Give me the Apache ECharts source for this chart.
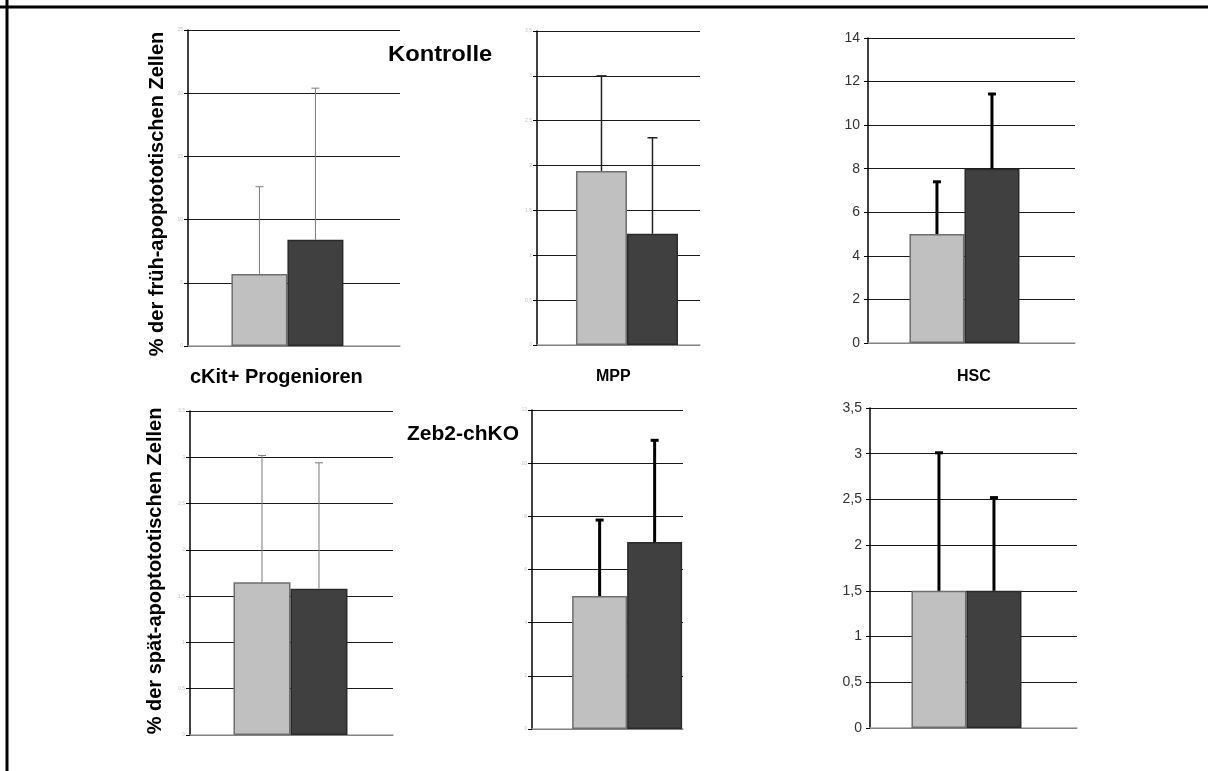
<!DOCTYPE html>
<html>
<head>
<meta charset="utf-8">
<script src="https://cdn.jsdelivr.net/npm/echarts@6/dist/echarts.min.js"></script>
<style>
html, body { margin: 0; padding: 0; background: #fff; }
#chart { width: 1208px; height: 771px; }
</style>
</head>
<body>
<div id="chart"></div>
<script>
// Groups compared in every panel (light bar, dark bar)
const groupNames = ['Kontrolle', 'Zeb2-chKO'];
const panelTitles = ['cKit+ Progenioren', 'MPP', 'HSC'];
const rowTitles = ['% der früh-apoptototischen Zellen', '% der spät-apoptototischen Zellen'];

// Early apoptotic cells: mean and SD, [Kontrolle, Zeb2-chKO]
const earlyCkit = [5.7, 8.4];
const earlyCkitSd = [6.9, 12.0];
const earlyMpp = [1.94, 1.24];
const earlyMppSd = [1.06, 1.07];
const earlyHsc = [5.0, 8.0];
const earlyHscSd = [2.4, 3.43];

// Late apoptotic cells: mean and SD, [Kontrolle, Zeb2-chKO]
const lateCkit = [1.65, 1.58];
const lateCkitSd = [1.37, 1.36];
const lateMpp = [5.0, 7.03];
const lateMppSd = [2.86, 3.83];
const lateHsc = [1.5, 1.5];
const lateHscSd = [1.51, 1.02];

// Y axis ranges per panel
const yMax = [25, 3.5, 14, 3.5, 12, 3.5];
const yStep = [5, 0.5, 2, 0.5, 2, 0.5];

const panelMeans = [earlyCkit, earlyMpp, earlyHsc, lateCkit, lateMpp, lateHsc];
const panelSds = [earlyCkitSd, earlyMppSd, earlyHscSd, lateCkitSd, lateMppSd, lateHscSd];

// Plot boxes (px) and bar placement inside each box
const layout = [
  { left: 188, top: 30,  width: 212, height: 316, center: 0.469, barW: 56, bigTicks: false, err: 'thin' },
  { left: 537, top: 31,  width: 163, height: 314, center: 0.552, barW: 51, bigTicks: false, err: 'mid' },
  { left: 868, top: 38,  width: 207, height: 305, center: 0.466, barW: 55, bigTicks: true,  err: 'bold' },
  { left: 190, top: 411, width: 203, height: 324, center: 0.495, barW: 57, bigTicks: false, err: 'thin' },
  { left: 532, top: 410, width: 151, height: 319, center: 0.63,  barW: 55, bigTicks: false, err: 'bold' },
  { left: 870, top: 408, width: 207, height: 320, center: 0.466, barW: 55, bigTicks: true,  err: 'bold' }
];

const errStyles = {
  thin: { stroke: '#7a7a7a', lineWidth: 1, cap: 4 },
  mid:  { stroke: '#222',    lineWidth: 1.5, cap: 5 },
  bold: { stroke: '#000',    lineWidth: 3, cap: 4 }
};

const fillColors = ['#c0c0c0', '#404040'];
const borderColors = ['#6e6e6e', '#2a2a2a'];

const fmt = v => String(v).replace('.', ',');

const grids = [], xAxes = [], yAxes = [], series = [];

layout.forEach((p, i) => {
  grids.push({ left: p.left, top: p.top, width: p.width, height: p.height, containLabel: false });
  xAxes.push({
    type: 'value', gridIndex: i, min: 0, max: 1,
    axisLine: { show: true, onZero: false, lineStyle: { color: '#a8a8a8', width: 1.5 } },
    axisTick: { show: false }, axisLabel: { show: false }, splitLine: { show: false }
  });
  yAxes.push({
    type: 'value', gridIndex: i, min: 0, max: yMax[i], interval: yStep[i],
    axisLine: { show: true, lineStyle: { color: '#000', width: 1.5 } },
    axisTick: { show: true, length: 4, lineStyle: { color: '#000', width: 1 } },
    axisLabel: p.bigTicks
      ? { show: true, formatter: fmt, color: '#333', fontSize: 14, margin: 8, fontFamily: 'Liberation Sans, Arial, sans-serif' }
      : { show: true, formatter: fmt, color: '#c4c4c4', fontSize: 5, margin: 5, fontFamily: 'Liberation Sans, Arial, sans-serif' },
    splitLine: { show: true, lineStyle: { color: '#1a1a1a', width: 1 } }
  });

  const means = panelMeans[i], sds = panelSds[i];
  means.forEach((m, g) => {
    series.push({
      type: 'bar', name: groupNames[g], xAxisIndex: i, yAxisIndex: i,
      barWidth: p.barW, barGap: '0%',
      data: [[p.center, m]],
      itemStyle: { color: fillColors[g], borderColor: borderColors[g], borderWidth: 1.5 },
      z: 3, animation: false
    });
  });

  means.forEach((m, g) => {
    const st = errStyles[p.err];
    const offset = (g === 0 ? -1 : 1) * p.barW / 2;
    series.push({
      type: 'custom', xAxisIndex: i, yAxisIndex: i, z: 4, animation: false, silent: true,
      data: [[p.center, m, sds[g]]],
      renderItem: (params, api) => {
        const base = api.coord([api.value(0), api.value(1)]);
        const top = api.coord([api.value(0), api.value(1) + api.value(2)]);
        const cx = base[0] + offset;
        const ls = { stroke: st.stroke, lineWidth: st.lineWidth };
        return {
          type: 'group',
          children: [
            { type: 'line', shape: { x1: cx, y1: base[1], x2: cx, y2: top[1] }, style: ls },
            { type: 'line', shape: { x1: cx - st.cap, y1: top[1], x2: cx + st.cap, y2: top[1] }, style: ls }
          ]
        };
      }
    });
  });
});

const boldFont = 'bold 20px "Liberation Sans", Arial, sans-serif';
const labelText = (text, x, y, size, extra) => Object.assign({
  type: 'text', left: x, top: y,
  style: { text, fill: '#000', font: 'bold ' + size + 'px "Liberation Sans", Arial, sans-serif' }
}, extra || {});

const graphic = [
  // page frame
  { type: 'line', shape: { x1: 0, y1: 7, x2: 1208, y2: 7 }, style: { stroke: '#000', lineWidth: 3 } },
  { type: 'line', shape: { x1: 7, y1: 0, x2: 7, y2: 771 }, style: { stroke: '#000', lineWidth: 3 } },
  // group labels
  labelText(groupNames[0], 388, 44, 22, { scaleX: 1.08 }),
  labelText(groupNames[1], 407, 424, 21),
  // panel titles
  labelText(panelTitles[0], 190, 367, 20),
  labelText(panelTitles[1], 596, 369, 16),
  labelText(panelTitles[2], 957, 369, 16),
  // row titles, reading bottom to top
  {
    type: 'text', x: 157, y: 194, rotation: Math.PI / 2,
    style: { text: rowTitles[0], fill: '#000', font: boldFont, textAlign: 'center', textVerticalAlign: 'middle' }
  },
  {
    type: 'text', x: 155, y: 571, rotation: Math.PI / 2,
    style: { text: rowTitles[1], fill: '#000', font: boldFont, textAlign: 'center', textVerticalAlign: 'middle' }
  }
];

const chart = echarts.init(document.getElementById('chart'), null, { renderer: 'canvas' });
chart.setOption({
  animation: false,
  backgroundColor: '#fff',
  grid: grids,
  xAxis: xAxes,
  yAxis: yAxes,
  series,
  graphic
});
</script>
</body>
</html>
